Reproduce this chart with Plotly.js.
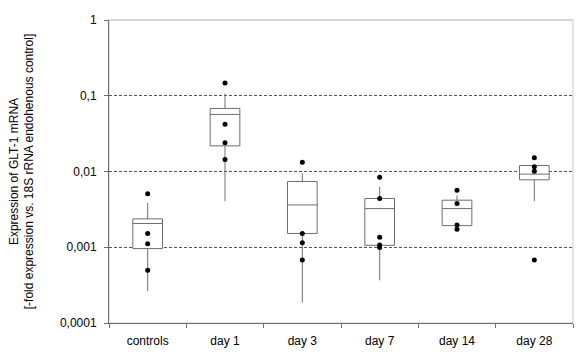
<!DOCTYPE html>
<html>
<head>
<meta charset="utf-8">
<script src="https://cdn.plot.ly/plotly-3.0.1.min.js"></script>
<style>html,body{margin:0;padding:0;background:#fff;}#chart{width:582px;height:362px;}</style>
</head>
<body>
<div id="chart"></div>
<script>
// Categories
const categories = ["controls", "day 1", "day 3", "day 7", "day 14", "day 28"];

// Box statistics
const q1 = [0.00096, 0.0218, 0.00152, 0.00106, 0.00193, 0.00776];
const medians = [0.00206, 0.0567, 0.00362, 0.00324, 0.00324, 0.00923];
const q3 = [0.00237, 0.068, 0.00738, 0.0044, 0.00418, 0.0120];
const lowerWhisker = [0.000265, 0.00406, 0.000186, 0.000366, 0.00193, 0.00406];
const upperWhisker = [0.00385, 0.1074, 0.0094, 0.00627, 0.00482, 0.0120];

// Individual data points
const pointCategories = [
  "controls", "controls", "controls", "controls",
  "day 1", "day 1", "day 1", "day 1",
  "day 3", "day 3", "day 3", "day 3",
  "day 7", "day 7", "day 7", "day 7", "day 7",
  "day 14", "day 14", "day 14", "day 14",
  "day 28", "day 28", "day 28", "day 28"
];
const pointValues = [
  0.00507, 0.00152, 0.00111, 0.000497,
  0.147, 0.0422, 0.0239, 0.0144,
  0.01328, 0.00152, 0.00115, 0.000679,
  0.00841, 0.0044, 0.001356, 0.00107, 0.00099,
  0.00567, 0.00378, 0.00197, 0.00173,
  0.0152, 0.01153, 0.0101, 0.000679
];

// Y tick labels
const yTickVals = [0.0001, 0.001, 0.01, 0.1, 1];
const yTickText = ["0,0001", "0,001", "0,01", "0,1", "1"];

const boxTrace = {
  type: "box",
  x: categories,
  q1: q1,
  median: medians,
  q3: q3,
  lowerfence: lowerWhisker,
  upperfence: upperWhisker,
  width: 0.384,
  whiskerwidth: 0,
  fillcolor: "#ffffff",
  line: {color: "#6e6e6e", width: 1},
  boxpoints: false,
  hoverinfo: "skip",
  showlegend: false
};

const pointTrace = {
  type: "scatter",
  mode: "markers",
  x: pointCategories,
  y: pointValues,
  marker: {color: "#000000", size: 5},
  hoverinfo: "skip",
  showlegend: false
};

const font = {family: "Liberation Sans, Arial, sans-serif", size: 12, color: "#000000"};

const layout = {
  width: 582,
  height: 362,
  margin: {l: 109, r: 9, t: 20, b: 39},
  paper_bgcolor: "#ffffff",
  plot_bgcolor: "#ffffff",
  font: font,
  showlegend: false,
  xaxis: {
    type: "category",
    categoryorder: "array",
    categoryarray: categories,
    range: [-0.5, 5.5],
    showgrid: false,
    zeroline: false,
    showline: true,
    linecolor: "#6e6e6e",
    linewidth: 1,
    ticks: "outside",
    tickson: "boundaries",
    ticklen: 4,
    tickcolor: "#6e6e6e",
    ticklabelstandoff: 7,
    tickfont: font
  },
  yaxis: {
    type: "log",
    range: [-4, 0],
    tickvals: yTickVals,
    ticktext: yTickText,
    showgrid: true,
    gridcolor: "#555555",
    gridwidth: 1,
    griddash: "3px,2px",
    zeroline: false,
    showline: true,
    linecolor: "#6e6e6e",
    linewidth: 1,
    ticks: "outside",
    ticklen: 4,
    tickcolor: "#6e6e6e",
    ticklabelstandoff: 5,
    tickfont: font,
    title: {
      text: "Expression of GLT-1 mRNA<br>[-fold expression vs. 18S rRNA endohenous control]",
      font: {family: "Liberation Sans, Arial, sans-serif", size: 12, color: "#000000"},
      standoff: 23
    }
  },
  shapes: [{
    type: "rect",
    xref: "paper", yref: "paper",
    x0: 0, x1: 1, y0: 0, y1: 1,
    line: {color: "#c8c8c8", width: 1},
    layer: "below"
  }, {
    type: "line",
    xref: "paper", yref: "paper",
    x0: 0, x1: 1, y0: 1, y1: 1,
    line: {color: "#c8c8c8", width: 1},
    layer: "above"
  }]
};

Plotly.newPlot("chart", [boxTrace, pointTrace], layout, {displayModeBar: false, staticPlot: true});
</script>
</body>
</html>
